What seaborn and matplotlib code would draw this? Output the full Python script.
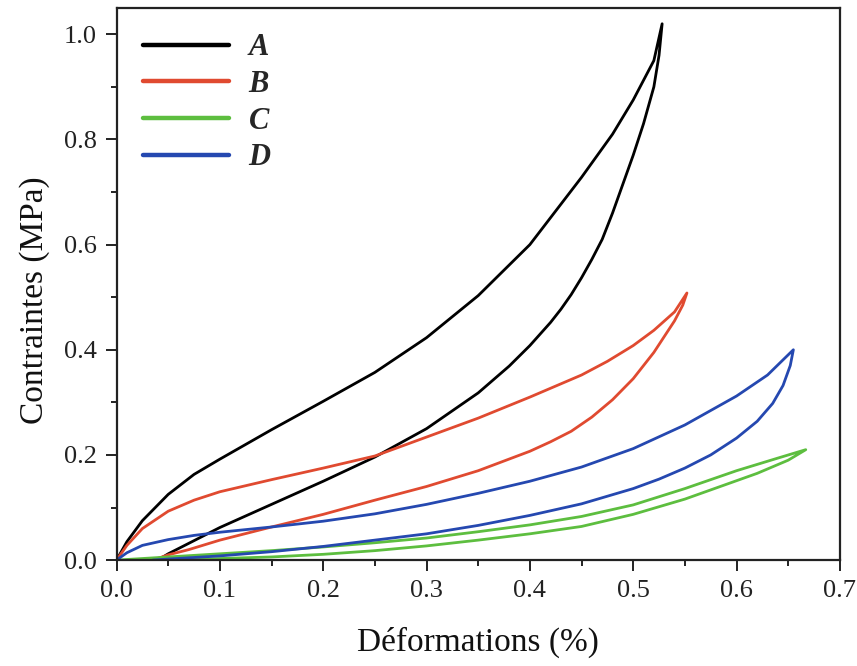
import matplotlib
matplotlib.use("Agg")
import matplotlib.pyplot as plt
from matplotlib.ticker import MultipleLocator, FormatStrFormatter
import seaborn as sns
import pandas as pd

# loops: loading branch then unloading branch
samples = ["A", "B", "C", "D"]
colors = {"A": "#000000", "B": "#E04A30", "C": "#5DBE3F", "D": "#2548B0"}

a_load_x = [0, 0.01, 0.025, 0.05, 0.075, 0.1, 0.15, 0.2, 0.25, 0.3, 0.35, 0.4, 0.45, 0.48, 0.5, 0.52, 0.528]
a_load_y = [0, 0.035, 0.075, 0.125, 0.163, 0.192, 0.248, 0.302, 0.357, 0.423, 0.503, 0.6, 0.728, 0.81, 0.875, 0.95, 1.02]
a_unload_x = [0.528, 0.525, 0.52, 0.51, 0.5, 0.49, 0.48, 0.47, 0.46, 0.45, 0.44, 0.43, 0.42, 0.4, 0.38, 0.35, 0.3, 0.25, 0.2, 0.15, 0.1, 0.075, 0.05, 0.04]
a_unload_y = [1.02, 0.96, 0.9, 0.83, 0.77, 0.715, 0.66, 0.61, 0.572, 0.537, 0.505, 0.477, 0.452, 0.408, 0.369, 0.318, 0.25, 0.196, 0.15, 0.106, 0.062, 0.037, 0.012, 0]

b_load_x = [0, 0.01, 0.025, 0.05, 0.075, 0.1, 0.15, 0.2, 0.25, 0.3, 0.35, 0.4, 0.45, 0.475, 0.5, 0.52, 0.54, 0.552]
b_load_y = [0, 0.028, 0.06, 0.093, 0.114, 0.13, 0.153, 0.175, 0.198, 0.234, 0.27, 0.31, 0.352, 0.378, 0.408, 0.437, 0.472, 0.508]
b_unload_x = [0.552, 0.548, 0.54, 0.53, 0.52, 0.5, 0.48, 0.46, 0.44, 0.42, 0.4, 0.35, 0.3, 0.25, 0.2, 0.15, 0.1, 0.07, 0.05, 0.035]
b_unload_y = [0.508, 0.485, 0.455, 0.425, 0.395, 0.345, 0.305, 0.272, 0.245, 0.225, 0.207, 0.17, 0.14, 0.114, 0.087, 0.063, 0.038, 0.02, 0.01, 0]

c_load_x = [0, 0.05, 0.1, 0.15, 0.2, 0.25, 0.3, 0.35, 0.4, 0.45, 0.5, 0.55, 0.6, 0.64, 0.667]
c_load_y = [0, 0.006, 0.012, 0.018, 0.025, 0.033, 0.042, 0.054, 0.067, 0.083, 0.105, 0.136, 0.17, 0.194, 0.21]
c_unload_x = [0.667, 0.65, 0.62, 0.6, 0.55, 0.5, 0.45, 0.4, 0.35, 0.3, 0.25, 0.2, 0.15, 0.1, 0.04]
c_unload_y = [0.21, 0.19, 0.165, 0.151, 0.116, 0.087, 0.064, 0.05, 0.038, 0.027, 0.018, 0.011, 0.006, 0.003, 0]

d_load_x = [0, 0.01, 0.025, 0.05, 0.075, 0.1, 0.15, 0.2, 0.25, 0.3, 0.35, 0.4, 0.45, 0.5, 0.55, 0.6, 0.63, 0.655]
d_load_y = [0, 0.014, 0.028, 0.039, 0.047, 0.053, 0.063, 0.074, 0.088, 0.106, 0.127, 0.15, 0.177, 0.212, 0.257, 0.312, 0.352, 0.4]
d_unload_x = [0.655, 0.652, 0.645, 0.635, 0.62, 0.6, 0.575, 0.55, 0.525, 0.5, 0.45, 0.4, 0.35, 0.3, 0.25, 0.2, 0.15, 0.1, 0.05, 0.035]
d_unload_y = [0.4, 0.37, 0.332, 0.298, 0.264, 0.232, 0.2, 0.175, 0.154, 0.136, 0.107, 0.085, 0.066, 0.05, 0.038, 0.026, 0.016, 0.008, 0.002, 0]

loops = {
    "A": (a_load_x + a_unload_x, a_load_y + a_unload_y),
    "B": (b_load_x + b_unload_x, b_load_y + b_unload_y),
    "C": (c_load_x + c_unload_x, c_load_y + c_unload_y),
    "D": (d_load_x + d_unload_x, d_load_y + d_unload_y),
}

rows = []
for s in samples:
    xs, ys = loops[s]
    for i, (x, y) in enumerate(zip(xs, ys)):
        rows.append({"sample": s, "step": i, "strain": x, "stress": y})
df = pd.DataFrame(rows)

sns.set_style("ticks")
plt.rcParams["font.family"] = ["Liberation Serif", "DejaVu Serif"]

fig = plt.figure(figsize=(8.57, 6.66), dpi=100)
ax = fig.add_axes([0.136, 0.159, 0.844, 0.829])

sns.lineplot(data=df, x="strain", y="stress", hue="sample", units="sample",
             estimator=None, sort=False, palette=colors, linewidth=2.0, ax=ax)

ax.set_xlim(0, 0.7)
ax.set_ylim(0, 1.05)
ax.xaxis.set_major_locator(MultipleLocator(0.1))
ax.xaxis.set_minor_locator(MultipleLocator(0.05))
ax.yaxis.set_major_locator(MultipleLocator(0.2))
ax.yaxis.set_minor_locator(MultipleLocator(0.1))
ax.tick_params(which="major", direction="out", length=8, width=1.4, labelsize=19, pad=6,
               colors="#222222")
ax.tick_params(which="minor", direction="out", length=4, width=1.4, colors="#222222")
ax.xaxis.set_major_formatter(FormatStrFormatter("%.1f"))
ax.yaxis.set_major_formatter(FormatStrFormatter("%.1f"))
for sp in ax.spines.values():
    sp.set_visible(True)
    sp.set_linewidth(1.6)
    sp.set_color("#222222")

ax.set_xlabel("Déformations (%)", fontsize=24, labelpad=18, color="#111111")
ax.set_ylabel("Contraintes (MPa)", fontsize=24, color="#111111")
ax.yaxis.set_label_coords(-0.092, 0.47)

handles, labels = ax.get_legend_handles_labels()
leg = ax.legend(handles, labels, loc="upper left", bbox_to_anchor=(0.02, 0.976), frameon=False,
                borderaxespad=0, handlelength=2.8, handletextpad=0.65, labelspacing=0.25,
                prop={"family": "Liberation Serif", "style": "italic", "weight": "bold", "size": 22})
for line in leg.get_lines():
    line.set_linewidth(3.2)

fig.savefig("out.png", dpi=100)
